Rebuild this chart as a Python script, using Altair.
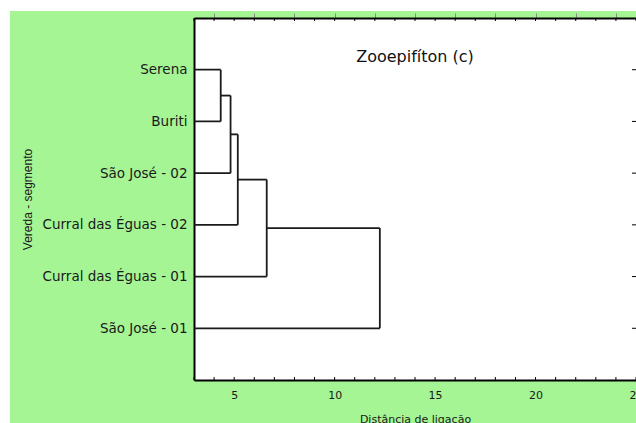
import json

import altair as alt
import pandas as pd

# Leaves of the dendrogram, top to bottom
leaves = [
    "Serena",
    "Buriti",
    "São José - 02",
    "Curral das Éguas - 02",
    "Curral das Éguas - 01",
    "São José - 01",
]
# Agglomeration steps: cluster a joins cluster b at the given linkage distance
# (indices 0-5 are leaves, 6+ are clusters created by earlier steps)
merge_a = [0, 6, 7, 8, 9]
merge_b = [1, 2, 3, 4, 5]
merge_height = [4.33, 4.82, 5.18, 6.62, 12.25]

x_tick_values = list(range(3, 26))
x_label_values = [5, 10, 15, 20, 25]
x_domain = [3, 25]
y_domain = [0, 7]
panel_title = "Zooepifíton (c)"

GREEN = "#a5f595"
INK = "#1a1a1a"
W, H = 442, 362

# Build the elbow segments of the dendrogram
pos = {i: float(i + 1) for i in range(len(leaves))}
hgt = {i: 0.0 for i in range(len(leaves))}
rows = []
for k, (a, b, h) in enumerate(zip(merge_a, merge_b, merge_height)):
    node = len(leaves) + k
    for c in (a, b):
        rows.append({"x": hgt[c], "x2": h, "y": pos[c], "y2": pos[c]})
    rows.append({"x": h, "x2": h, "y": pos[a], "y2": pos[b]})
    pos[node] = (pos[a] + pos[b]) / 2
    hgt[node] = h
segments = pd.DataFrame(rows)

ticks = pd.DataFrame({"t": x_tick_values})
leaf_pos = pd.DataFrame({"p": [float(i + 1) for i in range(len(leaves))]})

xs = alt.Scale(domain=x_domain, nice=False, zero=False)
ys = alt.Scale(domain=y_domain, nice=False, zero=False, reverse=True)

label_expr = json.dumps(leaves, ensure_ascii=False) + "[datum.value - 1]"

tree = alt.Chart(segments).mark_rule(clip=True, color=INK, strokeWidth=1.8).encode(
    x=alt.X(
        "x:Q",
        scale=xs,
        axis=alt.Axis(
            orient="bottom",
            values=x_label_values,
            grid=False,
            ticks=False,
            domain=True,
            domainColor="#000",
            domainWidth=2,
            labelFont="DejaVu Sans",
            labelFontSize=11,
            labelColor=INK,
            labelPadding=9,
            labelFlush=False,
            labelOverlap=False,
            title="Distância de ligação",
            titleFont="DejaVu Sans",
            titleFontSize=11,
            titleFontWeight="normal",
            titleColor=INK,
            titleX=W / 2,
            titleY=42,
            titleBaseline="alphabetic",
            titleAlign="center",
        ),
    ),
    x2="x2:Q",
    y=alt.Y(
        "y:Q",
        scale=ys,
        axis=alt.Axis(
            orient="left",
            values=[float(i + 1) for i in range(len(leaves))],
            labelExpr=label_expr,
            grid=False,
            ticks=False,
            tickSize=0,
            domain=True,
            domainColor="#000",
            domainWidth=2,
            labelFont="DejaVu Sans",
            labelFontSize=13.5,
            labelColor=INK,
            labelPadding=7,
            labelOverlap=False,
            title="Vereda - segmento",
            titleFont="Liberation Sans",
            titleFontSize=12,
            titleFontWeight="normal",
            titleColor=INK,
            titleAngle=-90,
            titleX=-167,
            titleY=H / 2,
            titleBaseline="middle",
            titleAlign="center",
        ),
    ),
    y2="y2:Q",
)

# Inward ticks on the bottom frame
bottom_ticks = alt.Chart(ticks).mark_rule(color="#000", strokeWidth=1).encode(
    x=alt.X("t:Q", scale=xs),
    y=alt.value(H),
    y2=alt.value(H - 3),
)

# Top frame line with its inward ticks
top_ticks = alt.Chart(ticks).mark_rule(color="#000", strokeWidth=1).encode(
    x=alt.X(
        "t:Q",
        scale=xs,
        axis=alt.Axis(
            orient="top",
            labels=False,
            ticks=False,
            grid=False,
            domain=True,
            domainColor="#000",
            domainWidth=2,
            title=None,
        ),
    ),
    y=alt.value(0),
    y2=alt.value(3),
)

# Inward ticks on the right side, one per leaf
right_ticks = alt.Chart(leaf_pos).mark_rule(color="#000", strokeWidth=1).encode(
    y=alt.Y("p:Q", scale=ys),
    x=alt.value(W - 4),
    x2=alt.value(W),
)

blank = alt.Data(values=[{}])

# Panel heading inside the plot frame
heading = alt.Chart(blank).mark_text(
    font="DejaVu Sans", fontSize=16, color="#111", align="center", baseline="middle"
).encode(
    text=alt.value(panel_title),
    x=alt.value(W / 2),
    y=alt.value(39),
)

# White margin strips around the green panel
strip_left = alt.Chart(blank).mark_rect(color="white").encode(
    x=alt.value(-194), x2=alt.value(-184), y=alt.value(-18), y2=alt.value(H + 43)
)
strip_top = alt.Chart(blank).mark_rect(color="white").encode(
    x=alt.value(-194), x2=alt.value(W), y=alt.value(-18), y2=alt.value(-7)
)

chart = (
    alt.layer(strip_left, strip_top, tree, bottom_ticks, top_ticks, right_ticks, heading)
    .resolve_axis(x="independent")
    .properties(
        width=W,
        height=H,
        autosize=alt.AutoSizeParams(type="none"),
        padding={"left": 194, "top": 18, "right": 0, "bottom": 43},
        background=GREEN,
    )
    .configure_view(stroke=None, fill="white")
)

chart.save("out.html", embed_options={"renderer": "svg", "actions": False})
